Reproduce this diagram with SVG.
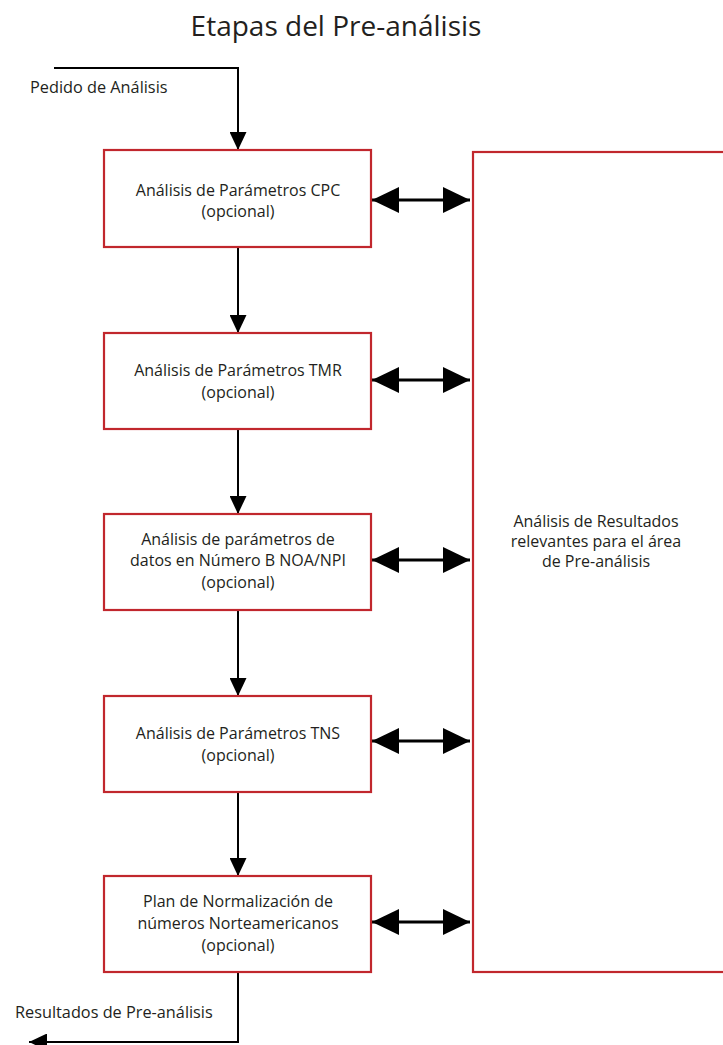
<svg xmlns="http://www.w3.org/2000/svg" width="723" height="1045" viewBox="0 0 723 1045">
<style>
.box{fill:#fff;stroke:#c1272d;stroke-width:2.2}
.t{font-family:"Open Sans","Liberation Sans",sans-serif;font-size:16px;fill:#231f20;text-anchor:middle}
.lbl{font-family:"Open Sans","Liberation Sans",sans-serif;font-size:16.3px;fill:#231f20}
.title{font-family:"Open Sans","Liberation Sans",sans-serif;font-size:28px;fill:#231f20;text-anchor:middle}
.flow{fill:none;stroke:#000;stroke-width:2;marker-end:url(#ah)}
.dbl{fill:none;stroke:#000;stroke-width:3;marker-start:url(#bh);marker-end:url(#bh)}
</style>
<defs>
<marker id="ah" markerUnits="userSpaceOnUse" markerWidth="18" markerHeight="17" refX="18" refY="8.5" orient="auto" viewBox="0 0 18 17">
<path d="M0,0 L18,8.5 L0,17 z" fill="#000"/>
</marker>
<marker id="bh" markerUnits="userSpaceOnUse" markerWidth="27" markerHeight="26" refX="27" refY="13" orient="auto-start-reverse" viewBox="0 0 27 26">
<path d="M0,0 L27,13 L0,26 z" fill="#000"/>
</marker>
</defs>
<text class="title" x="336" y="36">Etapas del Pre-análisis</text>
<g id="connectors">
<path class="flow" d="M54,68 H238 V150"/>
<path class="flow" d="M238,247 V333"/>
<path class="flow" d="M238,429 V514"/>
<path class="flow" d="M238,610 V696"/>
<path class="flow" d="M238,792 V876"/>
<path class="flow" d="M238,972 V1042 H29"/>
<path class="dbl" d="M372,200 H470"/>
<path class="dbl" d="M372,380 H470"/>
<path class="dbl" d="M372,560 H470"/>
<path class="dbl" d="M372,741 H470"/>
<path class="dbl" d="M372,922 H470"/>
<text class="lbl" x="30" y="93">Pedido de Análisis</text>
<text class="lbl" x="15" y="1018">Resultados de Pre-análisis</text>
</g>
<g id="n1">
<rect class="box" x="104" y="150" width="267" height="97"/>
<text class="t" x="238" y="196">Análisis de Parámetros CPC</text>
<text class="t" x="238" y="217">(opcional)</text>
</g>
<g id="n2">
<rect class="box" x="104" y="333" width="267" height="96"/>
<text class="t" x="238" y="376">Análisis de Parámetros TMR</text>
<text class="t" x="238" y="398">(opcional)</text>
</g>
<g id="n3">
<rect class="box" x="104" y="514" width="267" height="96"/>
<text class="t" x="238" y="545">Análisis de parámetros de</text>
<text class="t" x="238" y="566">datos en Número B NOA/NPI</text>
<text class="t" x="238" y="588">(opcional)</text>
</g>
<g id="n4">
<rect class="box" x="104" y="696" width="267" height="96"/>
<text class="t" x="238" y="739">Análisis de Parámetros TNS</text>
<text class="t" x="238" y="761">(opcional)</text>
</g>
<g id="n5">
<rect class="box" x="104" y="876" width="267" height="96"/>
<text class="t" x="238" y="907">Plan de Normalización de</text>
<text class="t" x="238" y="929">números Norteamericanos</text>
<text class="t" x="238" y="951">(opcional)</text>
</g>
<g id="n6">
<rect class="box" x="473" y="152" width="300" height="820"/>
<text class="t" x="596" y="527">Análisis de Resultados</text>
<text class="t" x="596" y="547">relevantes para el área</text>
<text class="t" x="596" y="567">de Pre-análisis</text>
</g>
</svg>
